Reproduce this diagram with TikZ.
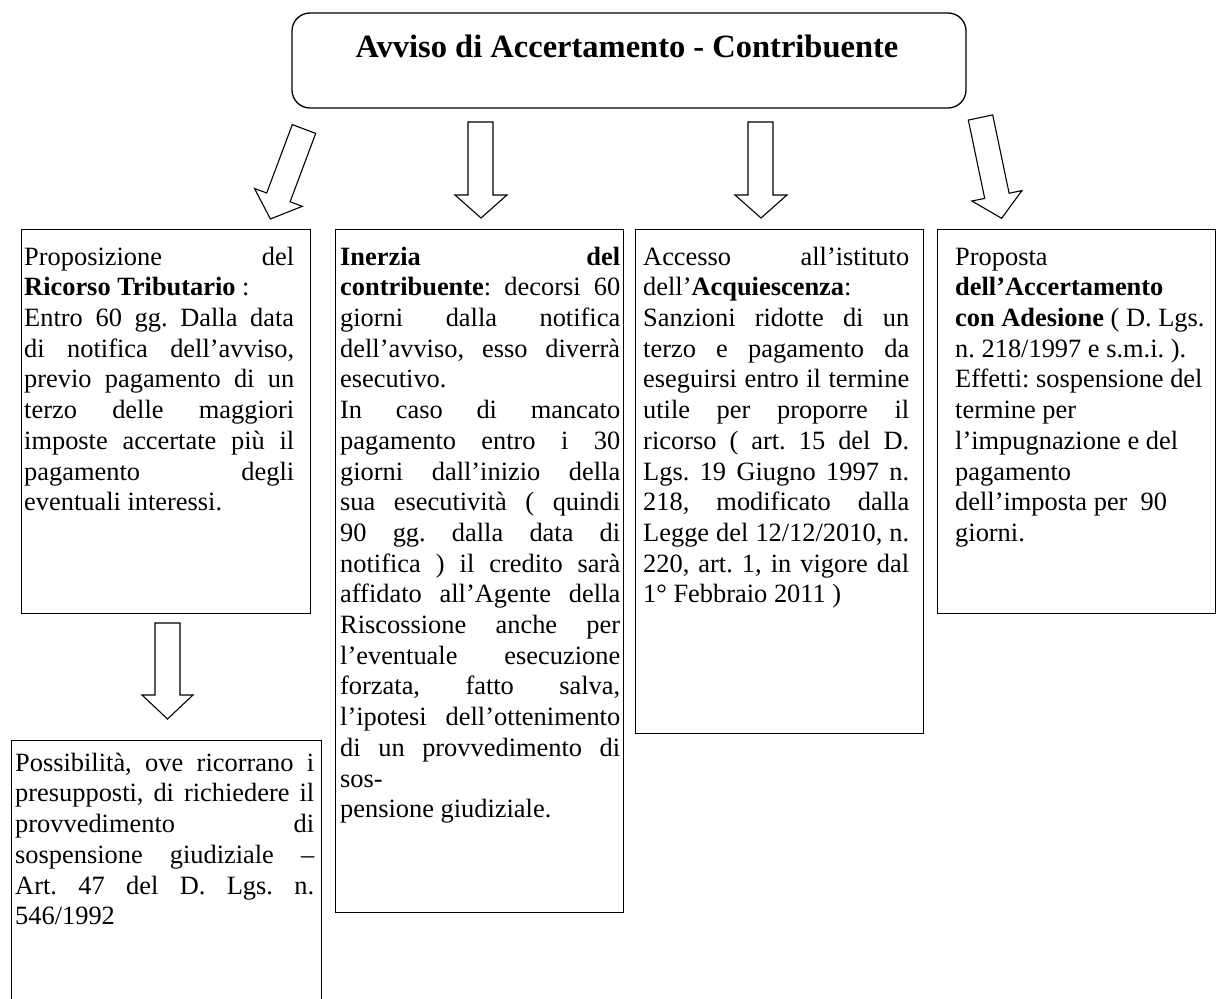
\documentclass[tikz,border=0pt]{standalone}
\usepackage{fontspec}
\setmainfont{Liberation Serif}
\frenchspacing
\newcommand\fs{\fontsize{26.4}{30.7}\selectfont}
\newcommand\Jl[2]{\hbox to #1{\strut\spaceskip=0.25em plus 1fil\relax #2}}
\newcommand\Ln[2]{\hbox to #1{\strut #2\hfil}}
\newcommand\tstack[2]{\vtop{\hsize=#1\relax\parindent=0pt\baselineskip=30.7pt\lineskiplimit=-100pt #2}}
\tikzset{
  box/.style={draw, line width=1.3pt, inner sep=0pt, anchor=north west},
  txt/.style={anchor=north west, inner sep=0pt, font=\fs},
  barrow/.style={draw, line width=1.1pt, fill=white, line join=miter},
}
\begin{document}
\begin{tikzpicture}[x=1pt,y=-1pt]
\useasboundingbox (0,0) rectangle (1217,998);
% title
\draw[line width=1.3pt, rounded corners=18pt] (292,13) rectangle (966,108);
\node[anchor=base, inner sep=0pt, font=\fontsize{32.5}{36}\selectfont\bfseries] (title) at (627,57) {Avviso di Accertamento - Contribuente};
% boxes
\node[box, minimum width=289pt, minimum height=384pt] (b1) at (21,229) {};
\node[box, minimum width=288pt, minimum height=683pt] (b2) at (335,229) {};
\node[box, minimum width=288pt, minimum height=504pt] (b3) at (635,229) {};
\node[box, minimum width=278pt, minimum height=384pt] (b4) at (937,229) {};
\node[box, minimum width=310pt, minimum height=290pt] (b5) at (11,740) {};
% arrows
\draw[barrow] (292.3,124.6) -- (315.7,133.4) -- (290.1,201.8) -- (302.3,206.3) -- (270.4,219.0) -- (254.5,188.5) -- (266.7,193.0) -- cycle;
\draw[barrow] (468,122) -- (493,122) -- (493,195) -- (507,195) -- (481,218) -- (455,195) -- (468,195) -- cycle;
\draw[barrow] (748,122) -- (773,122) -- (773,195) -- (787,195) -- (761,218) -- (735,195) -- (748,195) -- cycle;
\draw[barrow] (968.3,120.1) -- (992.7,114.9) -- (1009.1,193.2) -- (1021.9,190.6) -- (1001.6,218.3) -- (971.9,201.0) -- (984.7,198.4) -- cycle;
\draw[barrow] (155,623) -- (180,623) -- (180,695) -- (193,695) -- (167.5,719) -- (142,695) -- (155,695) -- cycle;
% texts (anchored at first baseline via strut height 21.5)
\node[txt] (t1) at (24,243.5) {\tstack{270pt}{%
\Jl{270pt}{Proposizione del}
\Ln{270pt}{\textbf{Ricorso Tributario} :}
\Jl{270pt}{Entro 60 gg. Dalla data}
\Jl{270pt}{di notifica dell’avviso,}
\Jl{270pt}{previo pagamento di un}
\Jl{270pt}{terzo delle maggiori}
\Jl{270pt}{imposte accertate più il}
\Jl{270pt}{pagamento degli}
\Ln{270pt}{eventuali interessi.}}};
\node[txt] (t2) at (340,243.5) {\tstack{280pt}{%
\Jl{280pt}{\textbf{Inerzia del}}
\Jl{280pt}{\textbf{contribuente}: decorsi 60}
\Jl{280pt}{giorni dalla notifica}
\Jl{280pt}{dell’avviso, esso diverrà}
\Ln{280pt}{esecutivo.}
\Jl{280pt}{In caso di mancato}
\Jl{280pt}{pagamento entro i 30}
\Jl{280pt}{giorni dall’inizio della}
\Jl{280pt}{sua esecutività ( quindi}
\Jl{280pt}{90 gg. dalla data di}
\Jl{280pt}{notifica ) il credito sarà}
\Jl{280pt}{affidato all’Agente della}
\Jl{280pt}{Riscossione anche per}
\Jl{280pt}{l’eventuale esecuzione}
\Jl{280pt}{forzata, fatto salva,}
\Jl{280pt}{l’ipotesi dell’ottenimento}
\Jl{280pt}{di un provvedimento di}
\Ln{280pt}{sos-}
\Ln{280pt}{pensione giudiziale.}}};
\node[txt] (t3) at (643,243.5) {\tstack{266pt}{%
\Jl{266pt}{Accesso all’istituto}
\Ln{266pt}{dell’\textbf{Acquiescenza}:}
\Jl{266pt}{Sanzioni ridotte di un}
\Jl{266pt}{terzo e pagamento da}
\Jl{266pt}{eseguirsi entro il termine}
\Jl{266pt}{utile per proporre il}
\Jl{266pt}{ricorso ( art. 15 del D.}
\Jl{266pt}{Lgs. 19 Giugno 1997 n.}
\Jl{266pt}{218, modificato dalla}
\Jl{266pt}{Legge del 12/12/2010, n.}
\Jl{266pt}{220, art. 1, in vigore dal}
\Ln{266pt}{1° Febbraio 2011 )}}};
\node[txt] (t4) at (955,243.5) {\tstack{255pt}{%
\Ln{255pt}{Proposta}
\Ln{255pt}{\textbf{dell’Accertamento}}
\Ln{255pt}{\textbf{con Adesione} ( D. Lgs.}
\Ln{255pt}{n. 218/1997 e s.m.i. ).}
\Ln{255pt}{Effetti: sospensione del}
\Ln{255pt}{termine per}
\Ln{255pt}{l’impugnazione e del}
\Ln{255pt}{pagamento}
\Ln{255pt}{dell’imposta per \ 90}
\Ln{255pt}{giorni.}}};
\node[txt] (t5) at (15,749.5) {\tstack{299pt}{%
\Jl{299pt}{Possibilità, ove ricorrano i}
\Jl{299pt}{presupposti, di richiedere il}
\Jl{299pt}{provvedimento di}
\Jl{299pt}{sospensione giudiziale –}
\Jl{299pt}{Art. 47 del D. Lgs. n.}
\Ln{299pt}{546/1992}}};
\end{tikzpicture}
\end{document}
